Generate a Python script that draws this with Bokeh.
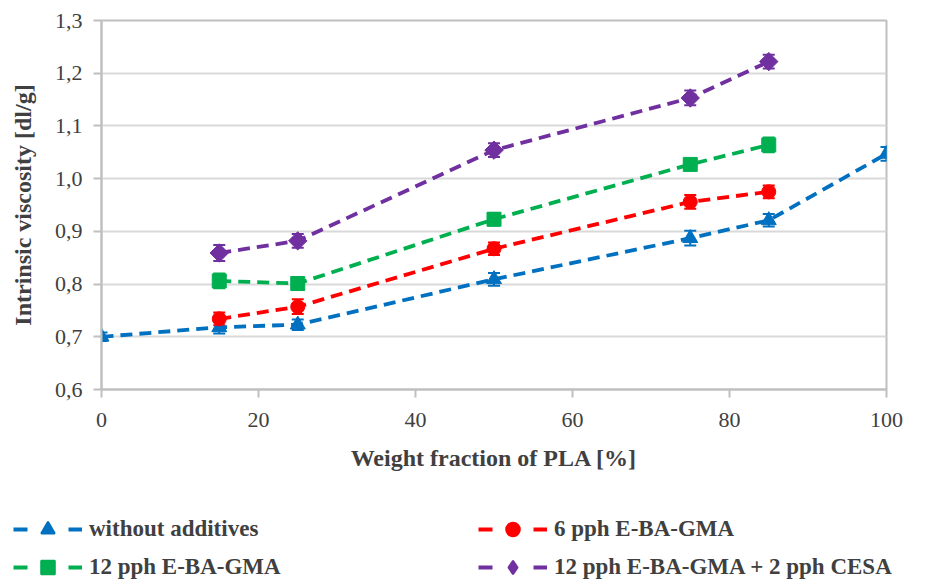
import math
from bokeh.plotting import figure
from bokeh.models import (ColumnDataSource, Whisker, TeeHead, Legend, LegendItem,
                          FixedTicker, CustomJSTickFormatter, Range1d)
from bokeh.embed import file_html
from bokeh.resources import INLINE

# ---------------- data ----------------
x_blue = [0, 15, 25, 50, 75, 85, 100]
y_blue = [0.700, 0.718, 0.723, 0.809, 0.887, 0.921, 1.047]
e_blue = [0.008, 0.012, 0.010, 0.012, 0.014, 0.012, 0.013]

x_add = [15, 25, 50, 75, 85]
y_red = [0.734, 0.757, 0.867, 0.956, 0.975]
e_red = [0.012, 0.014, 0.012, 0.013, 0.012]
y_green = [0.806, 0.801, 0.923, 1.027, 1.064]
e_green = [0.014, 0.012, 0.012, 0.010, 0.014]
y_purple = [0.859, 0.882, 1.054, 1.153, 1.222]
e_purple = [0.015, 0.013, 0.013, 0.014, 0.013]

series_names = ["without additives", "6 pph E-BA-GMA", "12 pph E-BA-GMA",
                "12 pph E-BA-GMA + 2 pph CESA"]
series_colors = ["#0070C0", "#FF0000", "#00B050", "#7030A0"]
# the purple diamond is drawn as a square turned by 45 degrees in the plot
series_markers = ["triangle", "circle", "square", "square"]
marker_angles = [0.0, 0.0, 0.0, math.pi / 4]
marker_sizes = [15, 14, 14, 13]
legend_markers = ["triangle", "circle", "square", "diamond"]

x_ticks = [0, 20, 40, 60, 80, 100]
y_ticks = [0.6, 0.7, 0.8, 0.9, 1.0, 1.1, 1.2, 1.3]

x_title = "Weight fraction of PLA [%]"
y_title = "Intrinsic viscosity [dl/g]"

FONT = "Liberation Serif"

# ---------------- main figure ----------------
p = figure(width=935, height=490, output_backend="svg", toolbar_location=None,
           x_range=Range1d(0, 100), y_range=Range1d(0.6, 1.3),
           min_border_left=101, min_border_right=49, min_border_top=20,
           min_border_bottom=101)
p.outline_line_color = "#BFBFBF"
p.outline_line_width = 2
p.background_fill_color = "white"
p.border_fill_color = "white"

p.xgrid.visible = False
p.ygrid.grid_line_color = "#D9D9D9"
p.ygrid.grid_line_width = 2
p.ygrid.ticker = FixedTicker(ticks=y_ticks)

p.xaxis.ticker = FixedTicker(ticks=x_ticks)
p.yaxis.ticker = FixedTicker(ticks=y_ticks)
p.yaxis.formatter = CustomJSTickFormatter(code="return tick.toFixed(1).replace('.', ',');")

for ax in (p.xaxis, p.yaxis):
    ax.axis_line_color = "#BFBFBF"
    ax.axis_line_width = 2
    ax.major_tick_line_color = "#BFBFBF"
    ax.major_tick_line_width = 2
    ax.major_tick_out = 8
    ax.major_tick_in = 0
    ax.minor_tick_line_color = None
    ax.major_label_text_font = FONT
    ax.major_label_text_font_size = "22px"
    ax.major_label_text_color = "#404040"
    ax.axis_label_text_font = FONT
    ax.axis_label_text_font_style = "bold"
    ax.axis_label_text_color = "#404040"

p.xaxis.axis_label = x_title
p.xaxis.axis_label_text_font_size = "24px"
p.xaxis.major_label_standoff = 15
p.xaxis.axis_label_standoff = 15
p.yaxis.axis_label = y_title
p.yaxis.axis_label_text_font_size = "24px"
p.yaxis.major_label_standoff = 11
p.yaxis.axis_label_standoff = 16

all_x = [x_blue, x_add, x_add, x_add]
all_y = [y_blue, y_red, y_green, y_purple]
all_e = [e_blue, e_red, e_green, e_purple]

# ---------------- legend figure ----------------
lf = figure(width=935, height=93, output_backend="svg", toolbar_location=None,
            x_range=Range1d(0, 1), y_range=Range1d(0, 1),
            x_axis_type=None, y_axis_type=None,
            min_border=0, min_border_left=0, min_border_right=0,
            min_border_top=0, min_border_bottom=0)
lf.outline_line_color = None
lf.xgrid.visible = False
lf.ygrid.visible = False
lf.background_fill_color = "white"
lf.border_fill_color = "white"

items = []
for name, col, mk, ang, ms, lmk, xs, ys, es in zip(series_names, series_colors,
                                                   series_markers, marker_angles,
                                                   marker_sizes, legend_markers,
                                                   all_x, all_y, all_e):
    src = ColumnDataSource(dict(x=xs, y=ys,
                                lo=[v - e for v, e in zip(ys, es)],
                                hi=[v + e for v, e in zip(ys, es)]))
    p.line("x", "y", source=src, line_color=col, line_width=3.8, line_dash="12 7")
    p.add_layout(Whisker(source=src, base="x", lower="lo", upper="hi",
                         line_color=col, line_width=2,
                         upper_head=TeeHead(size=12, line_color=col, line_width=2),
                         lower_head=TeeHead(size=12, line_color=col, line_width=2)))
    p.scatter("x", "y", source=src, marker=mk, angle=ang, size=ms,
              fill_color=col, line_color=col)
    # legend-only glyphs (one point kept outside the visible range)
    lg_line = lf.line(x=[-5, -4], y=[-5, -5], line_color=col, line_width=3.8,
                      line_dash="14 41")
    lg_mk = lf.scatter(x=[-5], y=[-5], marker=lmk, size=ms,
                       fill_color=col, line_color=col, line_width=2)
    items.append(LegendItem(label=name, renderers=[lg_line, lg_mk]))

legend = Legend(items=items, location=(13, -1), orientation="horizontal", ncols=2,
                glyph_width=69, glyph_height=34, label_height=34, label_width=385,
                label_standoff=7, spacing=4, padding=0, margin=0,
                label_text_font=FONT, label_text_font_size="23px",
                label_text_font_style="bold", label_text_color="#404040",
                border_line_alpha=0, background_fill_alpha=0)
lf.add_layout(legend)

open("out.html", "w").write(file_html([p, lf], INLINE))
